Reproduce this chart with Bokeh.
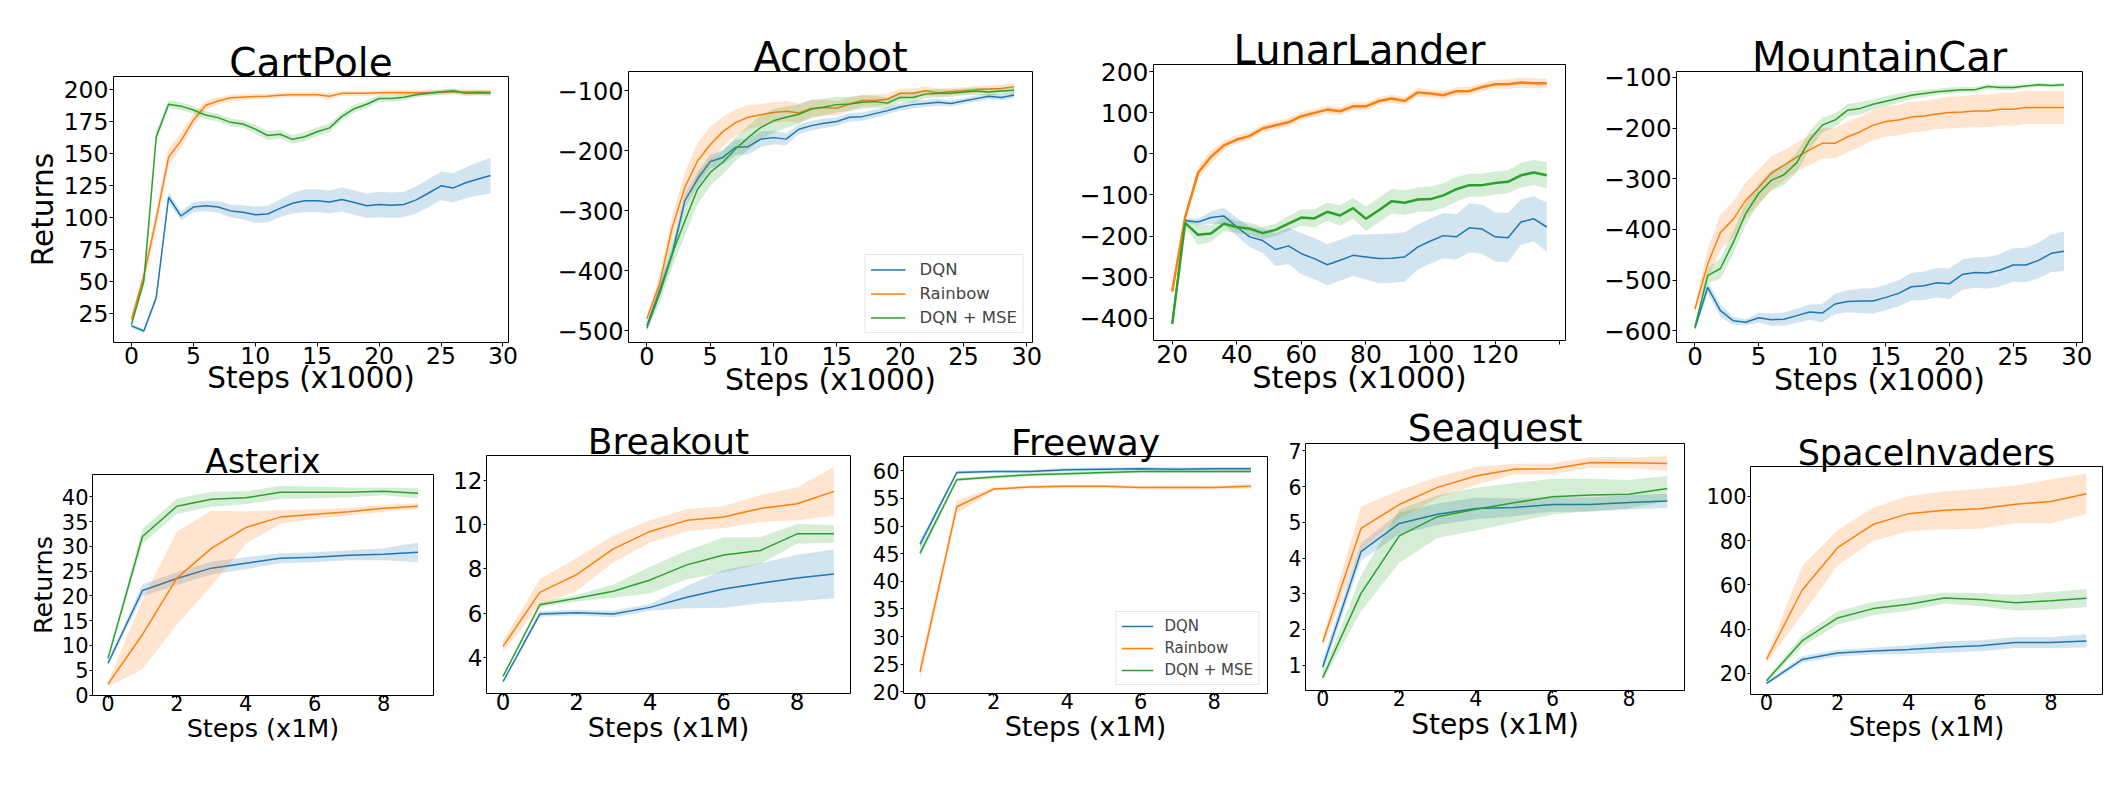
import numpy as np
from bokeh.plotting import figure
from bokeh.models import Range1d, FixedTicker, Legend, LegendItem, Spacer
from bokeh.layouts import row, column
from bokeh.embed import file_html
from bokeh.resources import INLINE

BLUE = "#1f77b4"
ORANGE = "#ff7f0e"
GREEN = "#2ca02c"
FONT = "DejaVu Sans"
SERIES_NAMES = ["DQN", "Rainbow", "DQN + MSE"]

# ---------------- data ----------------
steps_k = list(range(30))
lunar_steps = list(range(20, 137, 4))
atari_steps = list(range(10))

cp_dqn = [15, 11, 37, 115.7, 101, 108, 109, 108, 105, 104, 102, 102.6, 107, 111, 113, 113, 112, 114, 111.5, 109, 110, 109.4, 110, 113.6, 119, 124.6, 123, 127, 130, 132.7]
cp_dqn_sd = [1.5, 1.5, 3, 4, 3.5, 4, 4, 4.5, 5, 5.5, 6.5, 6.5, 7, 8, 9, 9, 9, 9.5, 9.5, 9.5, 10, 10, 10, 10.5, 11, 11, 11.5, 12, 13, 14]
cp_rb = [20, 54, 98.7, 147, 160, 176, 187.7, 191, 193.5, 194, 194.5, 194.8, 195.5, 196, 196, 196, 194.8, 197, 197, 197, 197.5, 197.5, 197.5, 197.5, 197.5, 198, 198, 198, 198, 198]
cp_rb_sd = [3, 6, 7, 7, 6, 5, 3.5, 3, 2.5, 2.5, 2, 2, 2, 2, 2, 2, 2.5, 2, 2, 2, 2, 2, 2, 2, 2, 2, 2, 2, 2, 2]
cp_mse = [16, 50, 163, 188.5, 187, 184, 180, 178, 174.3, 173, 169, 164, 165, 161, 163, 167, 170, 179, 185, 188.5, 193, 193, 194, 196, 197, 198, 199, 197, 197.4, 197]
cp_mse_sd = [2, 4, 5, 3, 3, 3, 3, 3, 3, 3, 3.5, 3.5, 3.5, 3.5, 3.5, 3.5, 3.5, 3, 3, 3, 2.5, 2.5, 2.5, 2, 2, 2, 2, 2, 2, 2]

ac_dqn = [-491.7, -433, -372, -283, -247, -218, -211, -194, -193, -180.5, -178, -180.5, -164, -158, -154, -151, -144, -143, -138, -133, -127, -123, -121, -119, -121, -117, -113, -109, -111, -107]
ac_dqn_sd = [5, 10, 12, 12, 12, 12, 12, 13, 13, 13, 11, 10, 8, 8, 8, 7, 7, 7, 7, 6, 6, 6, 6, 6, 5, 5, 5, 5, 5, 5]
ac_rb = [-480, -422, -328, -261, -217, -190, -168, -153, -144, -140, -136, -134, -137, -129, -128, -129, -122, -116, -116, -114, -104, -104, -100, -103, -101, -100, -98, -97, -96, -93]
ac_rb_sd = [5, 15, 20, 25, 30, 30, 25, 22, 20, 18, 17, 17, 16, 14, 13, 12, 11, 10, 10, 9, 8, 8, 7, 7, 6, 6, 6, 6, 6, 6]
ac_mse = [-495.5, -439, -372, -317, -264, -236, -219, -197, -178, -161, -150, -144, -139, -130.5, -127, -123, -122, -119, -118, -120.5, -111, -111, -105.5, -104, -104, -102, -100.5, -102, -100.5, -99]
ac_mse_sd = [5, 15, 22, 25, 25, 22, 20, 20, 20, 20, 20, 18, 16, 15, 14, 13, 12, 11, 10, 9, 8, 8, 7, 7, 6, 6, 6, 6, 6, 6]

ll_dqn = [-412, -162, -166, -155, -151, -178, -202, -211, -233, -224, -243, -255, -270, -259, -247, -251, -255, -254, -251, -227, -212, -199, -202, -180, -183, -202, -204, -166, -158, -178]
ll_dqn_sd = [5, 5, 8, 15, 20, 22, 25, 30, 40, 45, 50, 50, 50, 50, 50, 55, 60, 60, 60, 55, 55, 55, 55, 60, 60, 60, 60, 55, 55, 60]
ll_rb = [-335, -154, -46, -7, 21, 35, 44, 62, 70, 77, 92, 100, 108, 104, 116, 116, 129, 135, 129, 150, 147, 143, 153, 153, 163, 170, 170, 174, 172, 172]
ll_rb_sd = [5, 8, 15, 15, 12, 10, 10, 10, 10, 10, 10, 10, 10, 10, 10, 10, 10, 10, 10, 10, 10, 10, 10, 10, 10, 10, 12, 12, 12, 12]
ll_mse = [-414, -168, -197, -194, -170, -178, -182, -193, -185, -170, -155, -157, -141, -150, -132, -158, -137, -115, -119, -111, -110, -101, -86, -76, -76, -71, -68, -52, -45, -52]
ll_mse_sd = [5, 10, 25, 20, 18, 15, 15, 15, 15, 18, 20, 22, 22, 25, 25, 30, 30, 30, 30, 30, 30, 30, 30, 28, 28, 28, 28, 30, 30, 32]

mc_dqn = [-595, -514, -560, -580, -583, -574, -578, -577, -570, -563, -565, -547, -542, -541, -541, -534, -526, -513, -511, -505, -507, -489, -485, -486, -480, -470, -470, -461, -447, -443]
mc_dqn_sd = [5, 12, 12, 8, 6, 10, 12, 13, 14, 15, 18, 20, 22, 24, 25, 25, 26, 27, 28, 29, 30, 30, 30, 31, 32, 33, 34, 35, 37, 39]
mc_rb = [-557, -468, -406, -380, -342, -317, -289, -273, -257, -243, -230, -230, -217, -207, -194, -187, -184, -178, -176, -172, -169, -168, -166, -166, -162.5, -162.5, -159, -159, -159, -159]
mc_rb_sd = [10, 30, 35, 35, 35, 35, 33, 30, 28, 30, 30, 30, 30, 30, 30, 30, 30, 30, 30, 30, 31, 31, 32, 32, 32, 33, 33, 33, 33, 33]
mc_mse = [-592, -491, -477, -426, -368, -329, -303, -292, -268, -224, -194, -184, -164.5, -161, -153, -147, -141, -135, -131.5, -128, -126, -124, -124, -118, -120, -120, -117, -114.5, -116, -114.5]
mc_mse_sd = [5, 15, 20, 22, 22, 20, 20, 20, 20, 18, 15, 13, 12, 12, 10, 10, 9, 8, 7, 6, 6, 5, 5, 5, 5, 5, 4, 4, 4, 4]

as_dqn = [6.4, 21.1, 23.5, 25.6, 26.6, 27.6, 27.8, 28.2, 28.4, 28.8]
as_dqn_sd = [0.5, 1.2, 1.3, 1.3, 1.2, 1.0, 1.0, 1.0, 1.2, 2.0]
as_rb = [2.2, 12.2, 23.6, 29.6, 33.8, 35.9, 36.5, 37, 37.7, 38.1]
as_rb_sd = [0.5, 7, 9.4, 7.6, 3.3, 1.4, 1, 0.8, 0.7, 0.6]
as_mse = [7.4, 32, 38.1, 39.5, 39.8, 40.9, 40.9, 40.9, 41.1, 40.7]
as_mse_sd = [0.5, 1.5, 1.5, 1.5, 1.3, 1.3, 1.2, 1.0, 0.8, 1.0]

br_dqn = [2.91, 5.96, 6.02, 5.96, 6.26, 6.72, 7.09, 7.35, 7.59, 7.77]
br_dqn_sd = [0.05, 0.12, 0.12, 0.15, 0.15, 0.5, 0.85, 0.9, 1.05, 1.1]
br_rb = [4.5, 6.94, 7.74, 8.9, 9.69, 10.19, 10.34, 10.73, 10.94, 11.5]
br_rb_sd = [0.25, 0.6, 0.75, 0.6, 0.5, 0.5, 0.5, 0.6, 0.75, 1.1]
br_mse = [3.14, 6.38, 6.67, 6.99, 7.5, 8.18, 8.63, 8.83, 9.58, 9.58]
br_mse_sd = [0.05, 0.1, 0.15, 0.3, 0.6, 0.65, 0.8, 0.6, 0.45, 0.4]

fw_dqn = [46.7, 59.7, 59.9, 59.9, 60.2, 60.3, 60.4, 60.3, 60.4, 60.4]
fw_dqn_sd = [0.8, 0.3, 0.3, 0.3, 0.3, 0.3, 0.3, 0.3, 0.3, 0.3]
fw_rb = [23.6, 53.5, 56.7, 57.1, 57.2, 57.2, 57.0, 57.0, 57.0, 57.2]
fw_rb_sd = [1.5, 1.2, 0.3, 0.3, 0.3, 0.3, 0.3, 0.4, 0.3, 0.4]
fw_mse = [45.1, 58.4, 58.9, 59.3, 59.5, 59.7, 59.9, 59.9, 59.9, 59.9]
fw_mse_sd = [0.8, 0.3, 0.3, 0.3, 0.3, 0.3, 0.3, 0.3, 0.3, 0.3]

sq_dqn = [0.95, 4.18, 4.97, 5.23, 5.39, 5.42, 5.5, 5.5, 5.56, 5.6]
sq_dqn_sd = [0.2, 0.25, 0.3, 0.3, 0.3, 0.25, 0.2, 0.2, 0.2, 0.2]
sq_rb = [1.65, 4.83, 5.5, 5.98, 6.3, 6.49, 6.5, 6.68, 6.67, 6.65]
sq_rb_sd = [0.15, 0.6, 0.4, 0.3, 0.25, 0.15, 0.15, 0.15, 0.15, 0.2]
sq_mse = [0.65, 3.01, 4.62, 5.16, 5.37, 5.55, 5.72, 5.77, 5.79, 5.95]
sq_mse_sd = [0.1, 0.5, 0.75, 0.6, 0.6, 0.55, 0.5, 0.45, 0.4, 0.35]

si_dqn = [15.5, 26.3, 29.2, 30.1, 30.8, 31.9, 32.5, 34, 34, 34.7]
si_dqn_sd = [0.8, 1.5, 1.5, 1.5, 2, 2.5, 2.5, 2.5, 2.5, 3]
si_rb = [26.3, 57.6, 76.8, 87.4, 92.2, 93.7, 94.4, 96.4, 97.7, 101.2]
si_rb_sd = [1.5, 11, 8, 7.5, 8, 8.5, 9, 8.5, 10, 9]
si_mse = [16.7, 34.7, 45.1, 49.3, 51.3, 54.1, 53.4, 52, 52.8, 54]
si_mse_sd = [1, 2.5, 3, 3, 3, 2.5, 3, 3.5, 4, 4]

# tick labels
classic_xticks = [0, 5, 10, 15, 20, 25, 30]
lunar_xticks = [20, 40, 60, 80, 100, 120, 140]
atari_xticks = [0, 2, 4, 6, 8]
cp_yticks = [25, 50, 75, 100, 125, 150, 175, 200]
ac_yticks = [-500, -400, -300, -200, -100]
ll_yticks = [-400, -300, -200, -100, 0, 100, 200]
mc_yticks = [-600, -500, -400, -300, -200, -100]
as_yticks = [0, 5, 10, 15, 20, 25, 30, 35, 40]
br_yticks = [4, 6, 8, 10, 12]
fw_yticks = [20, 25, 30, 35, 40, 45, 50, 55, 60]
sq_yticks = [1, 2, 3, 4, 5, 6, 7]
si_yticks = [20, 40, 60, 80, 100]


def fmt(t):
    return str(t).replace("-", "\u2212")


def panel(name, x, series, xr, yr, xticks, yticks, box, fs, ylabel=None,
          xlabel="Steps (x1000)", legend=None, widths=(1.5, 1.5, 1.5), hide_x=()):
    W, H, L, R, T, B = box
    title_fs, tick_fs, lab_fs, tick_out, xl_so, xa_so, t_so = fs
    p = figure(width=W, height=H, x_range=Range1d(*xr), y_range=Range1d(*yr),
               output_backend="svg", toolbar_location=None, title=name,
               min_border_left=L, min_border_right=R, min_border_top=T, min_border_bottom=B,
               background_fill_color="white", border_fill_color=None)
    p.title.align = "center"
    p.title.vertical_align = "bottom"
    p.title.text_font = FONT
    p.title.text_font_style = "normal"
    p.title.text_font_size = f"{title_fs}px"
    p.title.text_color = "black"
    p.title.standoff = t_so
    p.outline_line_color = "black"
    p.outline_line_width = 1
    p.outline_line_alpha = 1
    p.grid.visible = False
    p.xaxis.ticker = FixedTicker(ticks=xticks)
    p.yaxis.ticker = FixedTicker(ticks=yticks)
    p.xaxis.major_label_overrides = {t: ("" if t in hide_x else fmt(t)) for t in xticks}
    p.yaxis.major_label_overrides = {t: fmt(t) for t in yticks}
    for ax in (p.xaxis[0], p.yaxis[0]):
        ax.axis_line_color = None
        ax.major_tick_line_color = "black"
        ax.major_tick_line_width = 1
        ax.major_tick_out = tick_out
        ax.major_tick_in = 0
        ax.minor_tick_line_color = None
        ax.major_label_text_font = FONT
        ax.major_label_text_font_size = f"{tick_fs}px"
        ax.major_label_text_color = "black"
        ax.axis_label_text_font = FONT
        ax.axis_label_text_font_style = "normal"
        ax.axis_label_text_color = "black"
        ax.axis_label_text_font_size = f"{lab_fs}px"
    p.xaxis.major_label_standoff = xl_so
    p.xaxis.axis_label_standoff = xa_so
    p.yaxis.major_label_standoff = 1
    p.yaxis.axis_label_standoff = 1
    p.xaxis.axis_label = xlabel
    if ylabel:
        p.yaxis.axis_label = ylabel

    renderers = []
    for (mean, sd), col, lw in zip(series, [BLUE, ORANGE, GREEN], widths):
        m = np.array(mean, dtype=float)
        s = np.array(sd, dtype=float)
        p.varea(x=x, y1=m - s, y2=m + s, fill_color=col, fill_alpha=0.2)
        r = p.line(x, m, line_color=col, line_width=lw)
        renderers.append(r)

    if legend:
        lfs, gw, gh, sp, pad, mg, lso = legend
        leg = Legend(items=[LegendItem(label=n, renderers=[r]) for n, r in zip(SERIES_NAMES, renderers)],
                     location="bottom_right", label_text_font=FONT,
                     label_text_font_size=f"{lfs}px", glyph_width=gw, glyph_height=gh,
                     label_height=gh, spacing=sp, padding=pad, margin=mg, label_standoff=lso,
                     border_line_color="#cccccc", border_line_width=1,
                     background_fill_color="white", background_fill_alpha=0.8)
        p.add_layout(leg)
    return p


def placed(fig, W, offset):
    if offset > 0:
        return column(Spacer(width=W, height=offset), fig)
    return column(fig)


TOP_X = [-1.45, 30.45]
LUNAR_X = [14.2, 141.8]
ATARI_X = [-0.45, 9.45]

TT, TB = 56, 85       # top-row borders (same for all four)
BT, BB = 56, 80       # bottom-row borders (same for all five)
top_fs = lambda t, k, l: (t, k, l, 4, 0, -6, -16)
bot_fs = lambda t, k, l: (t, k, l, 3, -4, -1, -13)

f1 = panel("CartPole", steps_k, [(cp_dqn, cp_dqn_sd), (cp_rb, cp_rb_sd), (cp_mse, cp_mse_sd)],
           TOP_X, [2, 210.2], classic_xticks, cp_yticks, (537, TT + 266 + TB, 105, 37, TT, TB),
           top_fs(39, 23.5, 29.5), ylabel="Returns")
f2 = panel("Acrobot", steps_k, [(ac_dqn, ac_dqn_sd), (ac_rb, ac_rb_sd), (ac_mse, ac_mse_sd)],
           TOP_X, [-519.4, -67.8], classic_xticks, ac_yticks, (530, TT + 271 + TB, 83, 43, TT, TB),
           top_fs(40, 24, 30), legend=(16.5, 35, 19, 5, 5, 9, 14))
f3 = panel("LunarLander", lunar_steps, [(ll_dqn, ll_dqn_sd), (ll_rb, ll_rb_sd), (ll_mse, ll_mse_sd)],
           LUNAR_X, [-454.5, 217.9], lunar_xticks, ll_yticks, (525, TT + 276 + TB, 78, 35, TT, TB),
           top_fs(40, 25, 30.5), widths=(1.5, 2.5, 2.5), hide_x=(140,))
f4 = panel("MountainCar", steps_k, [(mc_dqn, mc_dqn_sd), (mc_rb, mc_rb_sd), (mc_mse, mc_mse_sd)],
           TOP_X, [-623, -88.2], classic_xticks, mc_yticks, (507, TT + 271 + TB, 76, 25, TT, TB),
           top_fs(40, 24.5, 30))

f5 = panel("Asterix", atari_steps, [(as_dqn, as_dqn_sd), (as_rb, as_rb_sd), (as_mse, as_mse_sd)],
           ATARI_X, [-0.1, 44.5], atari_xticks, as_yticks, (437, BT + 221 + BB, 84, 12, BT, BB),
           bot_fs(33, 21, 25.5), ylabel="Returns", xlabel="Steps (x1M)")
f6 = panel("Breakout", atari_steps, [(br_dqn, br_dqn_sd), (br_rb, br_rb_sd), (br_mse, br_mse_sd)],
           ATARI_X, [2.37, 13.12], atari_xticks, br_yticks, (420, BT + 238 + BB, 41, 15, BT, BB),
           bot_fs(36, 23, 27), xlabel="Steps (x1M)")
f7 = panel("Freeway", atari_steps, [(fw_dqn, fw_dqn_sd), (fw_rb, fw_rb_sd), (fw_mse, fw_mse_sd)],
           ATARI_X, [19.7, 62.6], atari_xticks, fw_yticks, (413, BT + 237 + BB, 38, 11, BT, BB),
           bot_fs(36, 21, 27), xlabel="Steps (x1M)", legend=(15, 32, 18, 4, 5, 8, 11))
f8 = panel("Seaquest", atari_steps, [(sq_dqn, sq_dqn_sd), (sq_rb, sq_rb_sd), (sq_mse, sq_mse_sd)],
           ATARI_X, [0.29, 7.21], atari_xticks, sq_yticks, (420, BT + 247 + BB, 27, 14, BT, BB),
           bot_fs(37.5, 20.5, 28), xlabel="Steps (x1M)")
f9 = panel("SpaceInvaders", atari_steps, [(si_dqn, si_dqn_sd), (si_rb, si_rb_sd), (si_mse, si_mse_sd)],
           ATARI_X, [10.5, 113.5], atari_xticks, si_yticks, (409, BT + 228 + BB, 52, 5, BT, BB),
           bot_fs(35, 21, 26), xlabel="Steps (x1M)")

# vertical offsets so each frame sits where it does in the original figure
top_row = row(placed(f1, 537, 12), placed(f2, 530, 7), placed(f3, 525, 0), placed(f4, 507, 7))
bottom_row = row(placed(f5, 437, 31), placed(f6, 420, 12), placed(f7, 413, 13),
                 placed(f8, 420, 0), placed(f9, 409, 23), margin=(-40, 0, 0, 0))
layout = column(top_row, bottom_row, margin=(8, 0, 0, 8))
open("out.html", "w").write(file_html(layout, INLINE, title="DQN results"))
